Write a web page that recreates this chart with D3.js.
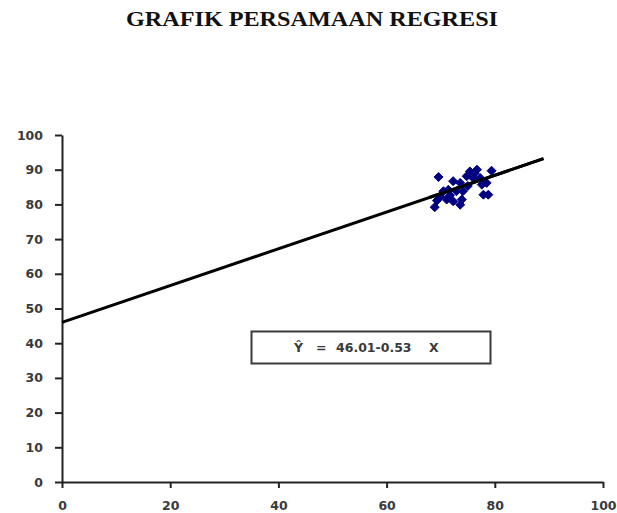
<!DOCTYPE html>
<html>
<head>
<meta charset="utf-8">
<script src="https://cdn.jsdelivr.net/npm/d3@7"></script>
<style>
  html, body { margin: 0; padding: 0; background: #fff; }
  svg { display: block; }
</style>
</head>
<body>
<svg id="chart" width="617" height="513"></svg>
<script>
// Observed data: X scores and Y scores
const xValues = [69.6, 68.9, 75.4, 76.7, 79.4, 77.9, 78.8, 73.9, 73.6, 71.1, 72.3, 69.9, 72.3, 73.6,
                 74.8, 76.0, 71.4, 70.5, 77.6, 78.5, 74.1, 76.3, 72.9, 75.0, 77.3, 71.7, 69.3];
const yValues = [87.9, 79.2, 89.5, 90.0, 89.7, 82.8, 82.8, 81.4, 79.9, 81.4, 80.9, 82.3, 86.7, 86.2,
                 88.1, 87.6, 84.2, 83.8, 85.7, 86.2, 83.8, 89.0, 83.8, 85.3, 87.6, 82.6, 81.1];

// Regression line: intercept, slope and the x-range it spans
const intercept = 46.01;
const slope = 0.53;
const lineRange = [0, 89];

const xTicks = [0, 20, 40, 60, 80, 100];
const yTicks = [0, 10, 20, 30, 40, 50, 60, 70, 80, 90, 100];

const titleText = "GRAFIK PERSAMAAN REGRESI";

const svg = d3.select("#chart");

const x = d3.scaleLinear().domain([0, 100]).range([62, 603]);
const y = d3.scaleLinear().domain([0, 100]).range([482, 135]);

// Title
svg.append("text")
  .attr("x", 312).attr("y", 26)
  .attr("text-anchor", "middle")
  .attr("font-family", "'Liberation Serif', 'Times New Roman', serif")
  .attr("font-weight", "bold")
  .attr("font-size", 20)
  .attr("textLength", 372)
  .attr("lengthAdjust", "spacingAndGlyphs")
  .attr("fill", "#111")
  .text(titleText);

// Axes
const axisFont = "'DejaVu Sans', Verdana, sans-serif";

const yAxis = svg.append("g")
  .attr("transform", `translate(${x(0)},0)`)
  .call(d3.axisLeft(y).tickValues(yTicks).tickSize(7).tickSizeOuter(0).tickPadding(12));

const xAxis = svg.append("g")
  .attr("transform", `translate(0,${y(0)})`)
  .call(d3.axisBottom(x).tickValues(xTicks).tickSize(6).tickSizeOuter(0).tickPadding(13));

[xAxis, yAxis].forEach(g => {
  g.select(".domain").attr("stroke", "#222").attr("stroke-width", 2);
  g.selectAll(".tick line").attr("stroke", "#222").attr("stroke-width", 2);
  g.selectAll(".tick text")
    .attr("font-family", axisFont)
    .attr("font-weight", "bold")
    .attr("font-size", 12.5)
    .attr("fill", "#3a3a3a");
});

// Regression line
const fitLine = d3.line()
  .x(d => x(d))
  .y(d => y(intercept + slope * d));

svg.append("path")
  .datum(lineRange)
  .attr("d", fitLine)
  .attr("fill", "none")
  .attr("stroke", "#000")
  .attr("stroke-width", 3);

// Scatter points (diamond markers)
const points = xValues.map((v, i) => ({ x: v, y: yValues[i] }));
const diamond = "M0,-4.5L4.5,0L0,4.5L-4.5,0Z";

svg.append("g")
  .selectAll("path")
  .data(points)
  .join("path")
  .attr("transform", d => `translate(${x(d.x)},${y(d.y)})`)
  .attr("d", diamond)
  .attr("fill", "#000080")
  .attr("stroke", "#000080")
  .attr("stroke-width", 1);

// Redraw the line over the cluster so it stays visible
svg.append("path")
  .datum([68, lineRange[1]])
  .attr("d", fitLine)
  .attr("fill", "none")
  .attr("stroke", "#000")
  .attr("stroke-width", 3);

// Equation box
const eq = svg.append("g");
eq.append("rect")
  .attr("x", 251.5).attr("y", 331.5)
  .attr("width", 239).attr("height", 32)
  .attr("fill", "#fff")
  .attr("stroke", "#3a3a3a")
  .attr("stroke-width", 2);

const eqText = eq.append("text")
  .attr("y", 352)
  .attr("font-family", axisFont)
  .attr("font-weight", "bold")
  .attr("font-size", 12.5)
  .attr("fill", "#3a3a3a");
eqText.append("tspan").attr("x", 294).text("Ŷ");
eqText.append("tspan").attr("x", 316).text("=");
eqText.append("tspan").attr("x", 336).text("46.01-0.53");
eqText.append("tspan").attr("x", 429).text("X");
</script>
</body>
</html>
